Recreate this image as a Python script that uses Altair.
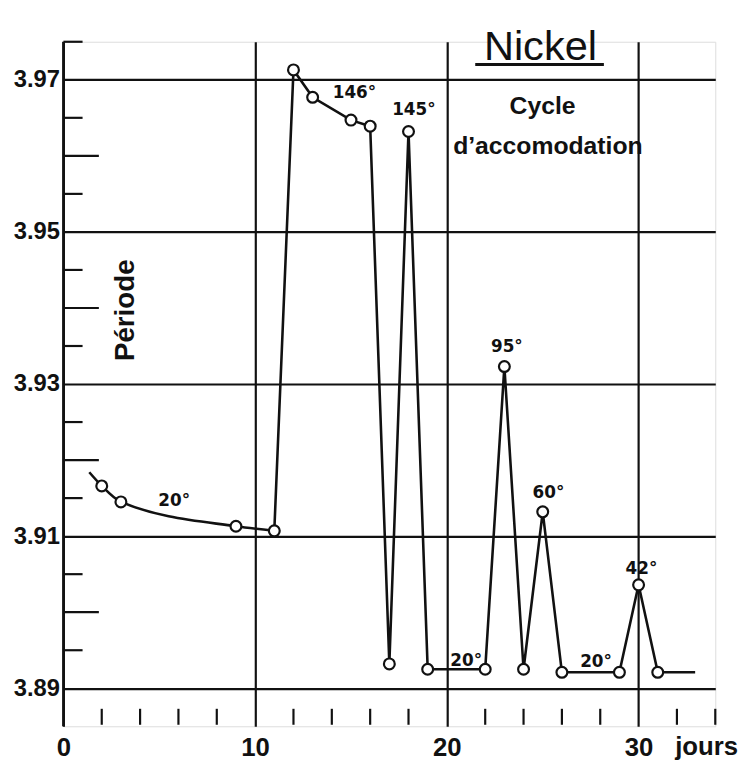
import altair as alt
import pandas as pd

# ---- data ----
days = [1.35, 2, 3, 9, 11, 12, 13, 15, 16, 17, 18, 19, 22, 23, 24, 25, 26, 29, 30, 31, 32.95]
period = [3.9184, 3.9166, 3.9145, 3.9113, 3.9107, 3.9713, 3.9677, 3.9647, 3.9639,
          3.8932, 3.9632, 3.8925, 3.8925, 3.9323, 3.8925, 3.9132, 3.8921, 3.8921,
          3.9036, 3.8921, 3.8921]
marked = [False] + [True] * 19 + [False]

x_labels = [0, 10, 20, 30]
y_labels = [3.89, 3.91, 3.93, 3.95, 3.97]
y_minor = [3.895, 3.900, 3.905, 3.915, 3.920, 3.925, 3.935, 3.940, 3.945,
           3.955, 3.960, 3.965, 3.975]
x_minor = [2, 4, 6, 8, 12, 14, 16, 18, 22, 24, 26, 28, 32, 34]

deg_text = ["20°", "146°", "145°", "20°", "95°", "60°", "20°", "42°"]
deg_x = [5.78, 15.18, 18.28, 21.01, 23.13, 25.30, 27.78, 30.15]
deg_y = [3.9146, 3.9683, 3.9660, 3.8936, 3.9349, 3.9157, 3.8934, 3.9057]

title_text = ["Nickel"]
title_x = [24.88]
title_y = [3.9726]
underline_x = [21.48]
underline_x2 = [28.19]
underline_y = [3.9720]

sub_text = ["Cycle", "d\u2019accomodation"]
sub_x = [24.99, 25.27]
sub_y = [3.9655, 3.9602]

ylab_text = ["Période"]
ylab_x = [3.25]
ylab_y = [3.9397]

unit_text = ["jours"]
unit_x = [33.55]
unit_y = [3.8812]

# ---- constants (styles) ----
INK = "#111111"
FONT = "Liberation Sans"
XD = [0, 34]
YD = [3.885, 3.975]
SHORT, LONG = 1.0, 1.85

xs = alt.Scale(domain=XD, nice=False, zero=False)
ys = alt.Scale(domain=YD, nice=False, zero=False)

x_axis = alt.Axis(
    values=x_labels, grid=True, gridColor=INK, gridWidth=2.2, gridOpacity=1,
    domain=False, ticks=False, labelFont=FONT, labelFontSize=26,
    labelFontWeight="bold", labelColor=INK, labelPadding=9, title=None,
    labelFlush=False)
y_axis = alt.Axis(
    values=y_labels, format=".2f", grid=True, gridColor=INK, gridWidth=2.2,
    gridOpacity=1, domain=False, ticks=False, labelFont=FONT, labelFontSize=24,
    labelFontWeight="bold", labelColor=INK, labelPadding=4, title=None,
    labelFlush=False)

df = pd.DataFrame({"day": days, "p": period, "m": marked})
curve = df.iloc[:5]
straight = df.iloc[4:]
pts = df[df["m"]]

X = lambda f="day": alt.X(f, type="quantitative", scale=xs, axis=x_axis)
Y = lambda f="p": alt.Y(f, type="quantitative", scale=ys, axis=y_axis)

yaxis_line = alt.Chart(pd.DataFrame({"a": [0], "y1": [YD[0]], "y2": [YD[1]]})).mark_rule(
    color=INK, strokeWidth=2.6).encode(x=X("a"), y=Y("y1"), y2="y2")

ym = pd.DataFrame({"v": y_minor})
ym["x0"] = 0.0
ym["x1"] = [LONG if round(v * 1000) % 10 == 0 else SHORT for v in y_minor]
yticks = alt.Chart(ym).mark_rule(color=INK, strokeWidth=2.2).encode(
    x=X("x0"), x2="x1", y=Y("v"))

xm = pd.DataFrame({"d": x_minor})
xm["y0"] = 3.8852
xm["y1"] = 3.8873
xticks = alt.Chart(xm).mark_rule(color=INK, strokeWidth=2.2).encode(
    x=X("d"), y=Y("y0"), y2="y1")

line1 = alt.Chart(curve).mark_line(color=INK, strokeWidth=2.6, interpolate="monotone").encode(
    x=X(), y=Y())
line2 = alt.Chart(straight).mark_line(color=INK, strokeWidth=2.6).encode(x=X(), y=Y())
points = alt.Chart(pts).mark_point(shape="circle", filled=True, fill="white", stroke=INK,
                                   strokeWidth=2.2, size=120, opacity=1).encode(x=X(), y=Y())

def texts(t, x, y, **kw):
    d = pd.DataFrame({"t": t, "x": x, "y": y})
    return alt.Chart(d).mark_text(color=INK, **kw).encode(x=X("x"), y=Y("y"), text="t:N")

deg = texts(deg_text, deg_x, deg_y, font="DejaVu Sans", fontSize=17, fontWeight="bold",
            baseline="middle")
title = texts(title_text, title_x, title_y, font=FONT, fontSize=42, baseline="alphabetic")
underline = alt.Chart(pd.DataFrame({"x1": underline_x, "x2": underline_x2, "y": underline_y})).mark_rule(
    color=INK, strokeWidth=3).encode(x=X("x1"), x2="x2", y=Y("y"))
sub = texts(sub_text, sub_x, sub_y, font=FONT, fontSize=25, fontWeight="bold",
            baseline="alphabetic")
ylab = texts(ylab_text, ylab_x, ylab_y, font=FONT, fontSize=28, fontWeight="bold",
             angle=270, baseline="middle")
unit = texts(unit_text, unit_x, unit_y, font=FONT, fontSize=26, fontWeight="bold",
             baseline="alphabetic")

chart = alt.layer(
    yaxis_line, yticks, xticks, line1, line2, points,
    deg, title, underline, sub, ylab, unit
).properties(
    width=659, height=692,
    autosize=alt.AutoSizeParams(type="none"),
    padding={"left": 56, "top": 30, "right": 26, "bottom": 35},
).configure_view(stroke=None).configure(background="white")

chart.save("out.html", embed_options={"renderer": "svg", "actions": False})
